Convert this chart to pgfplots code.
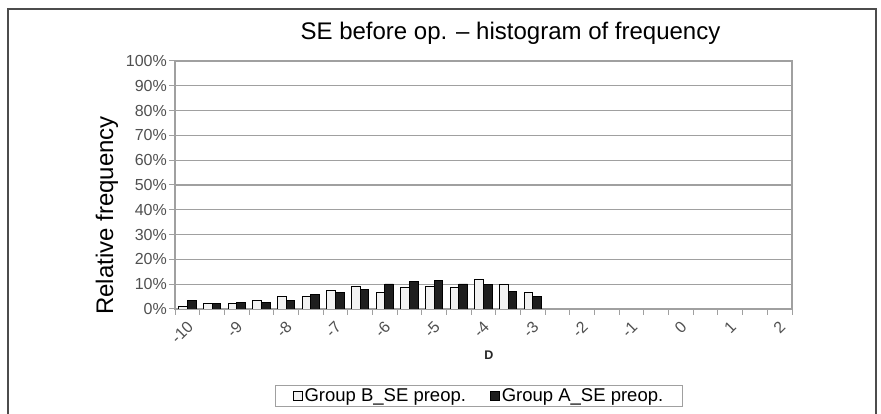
\documentclass[border=0pt]{standalone}
\usepackage{fontspec}
\setmainfont{Liberation Sans}
\usepackage{pgfplots}
\pgfplotsset{compat=1.18}
\definecolor{gridgray}{HTML}{A0A0A0}
\definecolor{ticktext}{HTML}{505050}
\definecolor{barblack}{HTML}{1E1E1E}
\definecolor{barwhite}{HTML}{F2F2F2}
\begin{document}
\begin{tikzpicture}
\useasboundingbox (0pt,0pt) rectangle (881pt,414pt);
\draw[line width=1.5pt, color=black!70] (8pt,-5pt) -- (8pt,405pt) -- (876pt,405pt) -- (876pt,-5pt);
\node[anchor=base, inner sep=0pt, font=\fontsize{24}{28}\selectfont] at (510.5pt,374.5pt) {SE before op. – histogram of frequency};
\node[anchor=base, rotate=90, inner sep=0pt, font=\fontsize{24}{28}\selectfont] at (113pt,198.5pt) {Relative frequency};
\begin{axis}[at={(175pt,105pt)}, anchor=south west, scale only axis,
  width=617pt, height=248pt,
  xmin=-0.5, xmax=24.5, ymin=0, ymax=100,
  ybar=0pt, bar width=8.7pt,
  xtick={0,2,...,24},
  xticklabels={-10,-9,-8,-7,-6,-5,-4,-3,-2,-1,0,1,2},
  minor xtick={-0.5,0.5,...,24.5},
  ytick={0,10,...,100},
  yticklabels={0\%,10\%,20\%,30\%,40\%,50\%,60\%,70\%,80\%,90\%,100\%},
  tick align=outside, xtick pos=bottom, ytick pos=left,
  major tick length=6pt, minor tick length=6pt,
  major x tick style={draw=none},
  tick style={gridgray, line width=1pt},
  axis line style={gridgray, line width=1.2pt},
  ymajorgrids, grid style={gridgray, line width=1.2pt},
  yticklabel style={font=\fontsize{16}{18}\selectfont, text=ticktext, inner sep=2pt},
  xticklabel style={font=\fontsize{16}{18}\selectfont, text=ticktext, anchor=east, inner sep=0pt, xshift=3pt, yshift=-9pt, rotate=45},
  xlabel={D},
  xlabel style={at={(axis description cs:0.5089,-0.1855)}, anchor=center, font=\bfseries\fontsize{12.5}{14}\selectfont, text=black!85},
  legend style={at={(0.4927,-0.351)}, anchor=center, draw=gridgray, line width=1pt, legend columns=2,
    font=\fontsize{18.5}{20}\selectfont, inner xsep=17pt, inner ysep=1pt,
    /tikz/every even column/.append style={column sep=22pt}},
  legend image code/.code={\draw[#1, line width=0.8pt] (0pt,-4.5pt) rectangle (9pt,4.5pt);},
  legend cell align=left,
]
\addplot[draw=black, line width=0.8pt, fill=barwhite] coordinates {
(0,1.2) (1,2.2) (2,2.4) (3,3.6) (4,5.1) (5,5.1) (6,7.4) (7,9.1) (8,6.6) (9,8.9) (10,9.2) (11,8.9) (12,12.1) (13,10.1) (14,6.8)};
\addplot[draw=black, line width=0.8pt, fill=barblack] coordinates {
(0,3.4) (1,2.2) (2,2.8) (3,2.7) (4,3.6) (5,5.7) (6,6.8) (7,8.0) (8,10.1) (9,11.0) (10,11.4) (11,10.1) (12,9.9) (13,7.0) (14,5.0)};
\legend{Group B\_SE preop.,Group A\_SE preop.}
\end{axis}
\end{tikzpicture}
\end{document}
